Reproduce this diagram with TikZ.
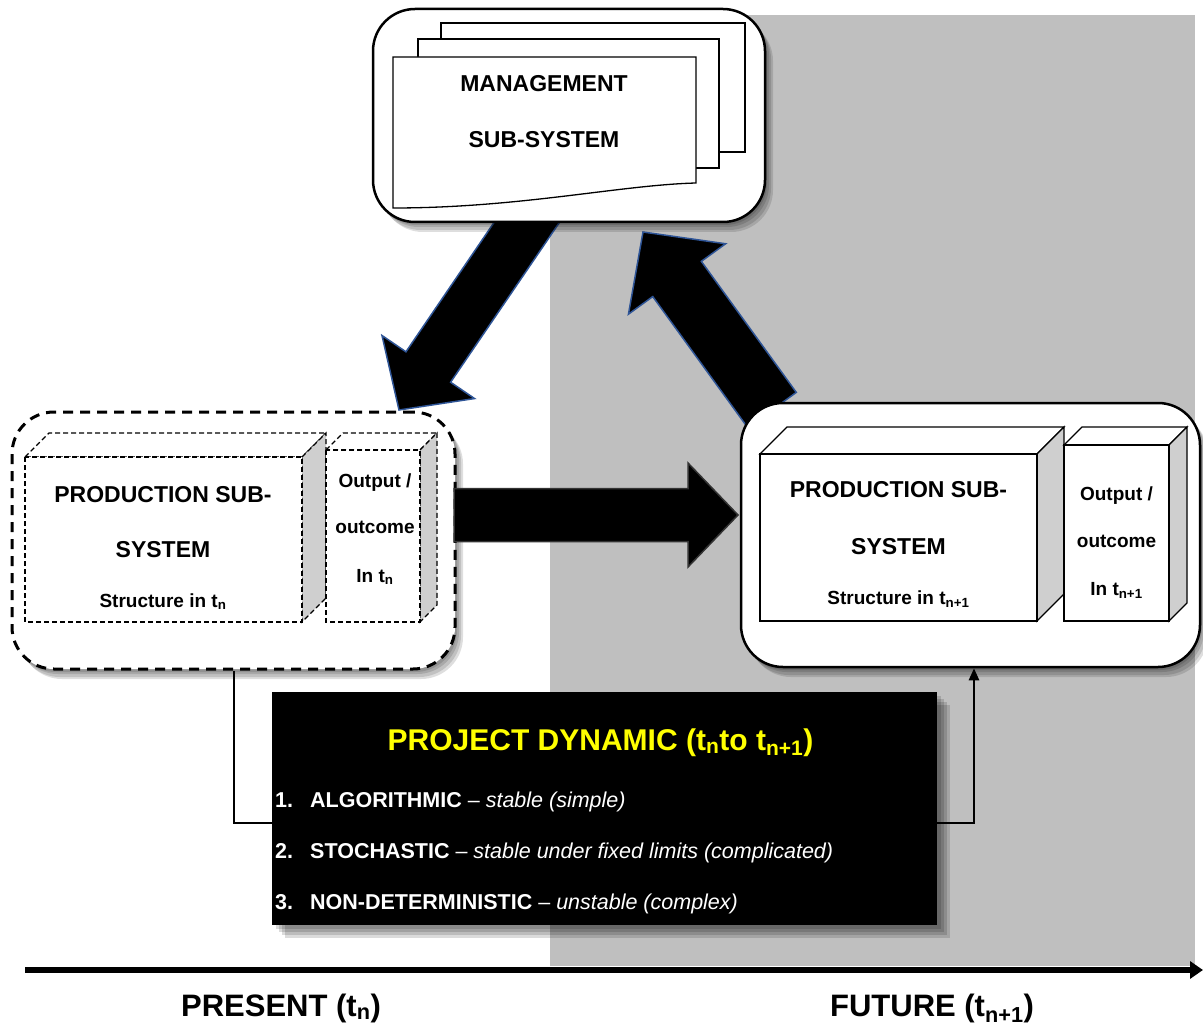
\documentclass[tikz,border=0pt]{standalone}
\usepackage{fontspec}
\setmainfont{Liberation Sans}
\usetikzlibrary{calc,arrows.meta,shadows}

\definecolor{bggray}{HTML}{BFBFBF}
\definecolor{sidegray}{HTML}{CFCFCF}
\definecolor{arrowblue}{HTML}{2F5597}
\definecolor{titleyellow}{HTML}{FFFF00}

\tikzset{
  softshadow/.style={
    general shadow={fill=black, opacity=0.13, shadow xshift=2pt, shadow yshift=-3pt},
    general shadow={fill=black, opacity=0.13, shadow xshift=4pt, shadow yshift=-5pt},
    general shadow={fill=black, opacity=0.13, shadow xshift=6pt, shadow yshift=-8pt},
    general shadow={fill=black, opacity=0.13, shadow xshift=8pt, shadow yshift=-10pt}},
  panel/.style={draw=black, fill=white, line width=2.5pt, rounded corners=42pt,
    inner sep=0pt, softshadow},
  dashedpanel/.style={panel, dash pattern=on 10pt off 7pt, line width=3pt},
  docsheet/.style={draw=black, fill=white, line width=1.3pt},
  solidcube/.style={draw=black, line width=1.3pt, line join=miter},
  hiddencube/.style={draw=black, line width=1.1pt, dash pattern=on 5pt off 3pt},
  bigarrow/.style={draw=arrowblue, fill=black, line width=1.5pt, line join=miter},
  feedback/.style={draw=black, line width=2.5pt},
  biglbl/.style={font=\fontsize{23}{27}\selectfont\bfseries, inner sep=0pt, anchor=base},
  smalllbl/.style={font=\fontsize{19}{23}\selectfont\bfseries, inner sep=0pt, anchor=base},
  itemlbl/.style={font=\fontsize{21.5}{25}\selectfont, text=white, inner sep=0pt, anchor=base west},
  timelbl/.style={font=\fontsize{31}{35}\selectfont\bfseries, inner sep=0pt, anchor=base},
}

% block arrow from #1 to #2: half shaft width #3, half head width #4, head length #5
\newcommand\blockarrowfromto[5]{%
  \coordinate (ba-head) at ($(#2)!#5!(#1)$);
  \draw[bigarrow] ($(#1)!#3!90:(#2)$) -- ($(ba-head)!#3!90:(#2)$)
    -- ($(ba-head)!#4!90:(#2)$) -- (#2) -- ($(ba-head)!#4!-90:(#2)$)
    -- ($(ba-head)!#3!-90:(#2)$) -- ($(#1)!#3!-90:(#2)$) -- cycle;
}

% cuboid with front face (#1,#2)-(#3,#4), depth #5, line style #6
\newcommand\cuboid[6]{%
  \draw[#6, fill=white] (#1,#2) -- ++(#5,-#5) -- (#3+#5,#2-#5) -- (#3,#2) -- cycle;
  \draw[#6, fill=sidegray] (#3,#2) -- ++(#5,-#5) -- (#3+#5,#4-#5) -- (#3,#4) -- cycle;
  \draw[#6, fill=white] (#1,#2) rectangle (#3,#4);
}

\begin{document}
\begin{tikzpicture}[x=1pt, y=-1pt]
  \useasboundingbox[fill=white] (0,0) rectangle (1203,1027);

  % future half of the time line
  \fill[bggray] (550,15) rectangle (1195,966);

  % management -> present production
  \coordinate (downstart) at (540,203);
  \coordinate (downtip) at (399,410);
  \blockarrowfromto{downstart}{downtip}{27pt}{56pt}{52pt}

  % future production -> management
  \coordinate (upstart) at (772,410);
  \coordinate (uptip) at (643,232);
  \blockarrowfromto{upstart}{uptip}{30pt}{60pt}{58pt}

  % management sub-system
  \node[panel, minimum width=392pt, minimum height=213pt] (mgmt) at (569,115.5) {};
  \draw[docsheet] (441,23) rectangle (745,152);
  \draw[docsheet] (418,39) rectangle (719,168);
  \draw[docsheet] (393,57) -- (696,57) -- (696,183)
    .. controls (620,185) and (520,208) .. (393,208) -- cycle;
  \node[biglbl] (mgmt-a) at (544,92) {MANAGEMENT};
  \node[biglbl] (mgmt-b) at (544,148) {SUB-SYSTEM};

  % production sub-system at t_n
  \node[dashedpanel, minimum width=443pt, minimum height=257pt] (prodnow) at (233.5,540.5) {};
  \cuboid{25}{457}{302}{622}{24}{hiddencube}
  \cuboid{326}{450}{420}{622}{17}{hiddencube}
  \node[biglbl] (now-a) at (163,502) {PRODUCTION SUB-};
  \node[biglbl] (now-b) at (163,557) {SYSTEM};
  \node[smalllbl] (now-c) at (163,607) {Structure in t\textsubscript{n}};
  \node[smalllbl] (now-d) at (375,487) {Output /};
  \node[smalllbl] (now-e) at (375,533) {outcome};
  \node[smalllbl] (now-f) at (375,582) {In t\textsubscript{n}};

  % present -> future
  \coordinate (rightstart) at (454,515);
  \coordinate (righttip) at (738,515);
  \begin{scope}[bigarrow/.append style={draw=black!80}]
    \blockarrowfromto{rightstart}{righttip}{26.5pt}{52pt}{50pt}
  \end{scope}

  % production sub-system at t_{n+1}
  \node[panel, minimum width=459pt, minimum height=264pt] (prodnext) at (970.5,535) {};
  \cuboid{760}{454}{1037}{621}{27}{solidcube}
  \cuboid{1064}{445}{1169}{621}{18}{solidcube}
  \node[biglbl] (next-a) at (898.5,497) {PRODUCTION SUB-};
  \node[biglbl] (next-b) at (898.5,554) {SYSTEM};
  \node[smalllbl] (next-c) at (898.5,604) {Structure in t\textsubscript{n+1}};
  \node[smalllbl] (next-d) at (1116.5,500) {Output /};
  \node[smalllbl] (next-e) at (1116.5,547) {outcome};
  \node[smalllbl] (next-f) at (1116.5,595) {In t\textsubscript{n+1}};

  % transition between the two structures
  \coordinate (fbL) at (234,823);
  \coordinate (fbR) at (974,823);
  \draw[feedback, -{Triangle[width=10pt,length=12pt]}]
    (fbL |- prodnow.south) -- (fbL) -- (fbR) -- (fbR |- prodnext.south);

  % project dynamic panel
  \node[fill=black, minimum width=665pt, minimum height=233pt, inner sep=0pt,
    general shadow={fill=black, opacity=0.14, shadow xshift=4pt, shadow yshift=-4pt},
    general shadow={fill=black, opacity=0.14, shadow xshift=7pt, shadow yshift=-7pt},
    general shadow={fill=black, opacity=0.14, shadow xshift=10pt, shadow yshift=-10pt},
    general shadow={fill=black, opacity=0.14, shadow xshift=13pt, shadow yshift=-13pt}]
    (dyn) at (604.5,808.5) {};
  \node[font=\fontsize{30}{34}\selectfont\bfseries, text=titleyellow, inner sep=0pt, anchor=base]
    (dyn-title) at (600.5,750) {PROJECT DYNAMIC (t\textsubscript{n}to t\textsubscript{n+1})};
  \node[itemlbl, font=\fontsize{21.5}{25}\selectfont\bfseries] (n1) at (275,807) {1.};
  \node[itemlbl] (i1) at (310,807) {\textbf{ALGORITHMIC} \textendash{} \textit{stable (simple)}};
  \node[itemlbl, font=\fontsize{21.5}{25}\selectfont\bfseries] (n2) at (275,858) {2.};
  \node[itemlbl] (i2) at (310,858) {\textbf{STOCHASTIC} \textendash{} \textit{stable under fixed limits (complicated)}};
  \node[itemlbl, font=\fontsize{21.5}{25}\selectfont\bfseries] (n3) at (275,909) {3.};
  \node[itemlbl] (i3) at (310,909) {\textbf{NON-DETERMINISTIC} \textendash{} \textit{unstable (complex)}};

  % time axis
  \coordinate (axisL) at (25,970);
  \coordinate (axisR) at (1203,970);
  \draw[line width=6pt, -{Triangle[width=17pt,length=13pt]}] (axisL) -- (axisR);
  \node[timelbl] (present) at (281,1016) {PRESENT (t\textsubscript{n})};
  \node[timelbl] (future) at (932,1016) {FUTURE (t\textsubscript{n+1})};
\end{tikzpicture}
\end{document}
